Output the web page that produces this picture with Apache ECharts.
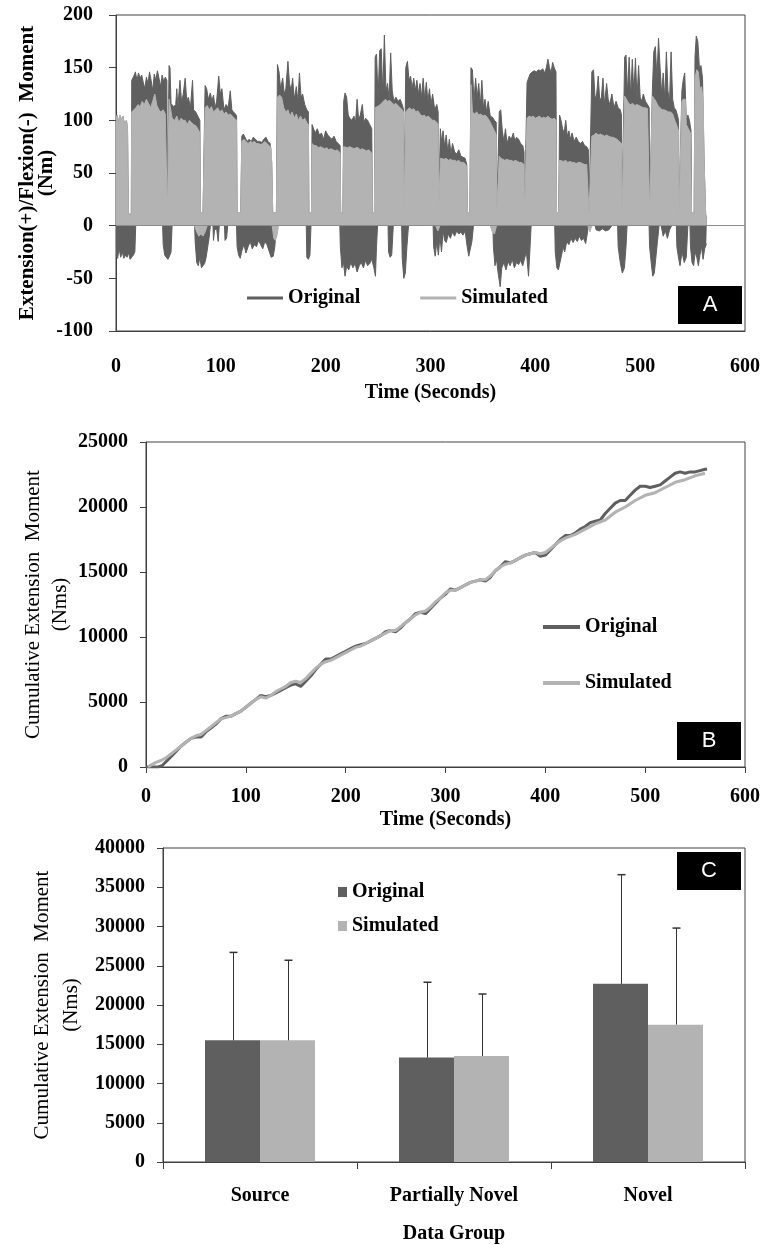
<!DOCTYPE html>
<html><head><meta charset="utf-8">
<script src="https://cdn.jsdelivr.net/npm/echarts/dist/echarts.min.js"></script>
<style>html,body{margin:0;padding:0;background:#fff}#c{width:763px;height:1245px}</style>
</head><body><div id="c"></div>
<script>
// ---------- Panel A: moment time series (envelopes) ----------
const momentOriginalUpper = [
[0,98],[1,105],[2.5,96],[3.5,105],[5,100],[6.5,104],[8,97],[10,100],[11,90],[11.8,12],[14,10],
[14.6,12],[15,138],[17,142],[18.5,146],[20,138],[21.5,145],[23,140],[24.5,143],[26,136],[27.5,130],[29,141],[30.5,135],[32,146],[33.5,138],[35,128],[36.5,144],[38,138],[39.5,147],[41,140],[42.5,132],[44,143],[45.5,137],[47,141],[48.5,138],[49,12],[49.8,12],
[50.3,12],[50.6,152],[51.5,150],[52.5,116],[55,113],[57,115],[58,130],[59,112],[61,138],[62.5,118],[64,124],[66,140],[67.5,118],[69,122],[71,112],[73,138],[74,110],[76,108],[78,104],[80,100],[80.5,12],[83,12],
[84.5,12],[85,133],[86.5,130],[88,120],[90,126],[91.5,118],[93,124],[94.5,112],[96,118],[98,142],[99.5,125],[101,130],[103,110],[105,115],[107,112],[109,128],[110.5,110],[112,108],[114,106],[115,104],[115.5,12],[119,12],
[119.5,12],[120,85],[121.5,87],[123,86],[125,80],[127,82],[129,80],[131,84],[133,82],[135,80],[137,80],[139,79],[141,82],[143,84],[145,80],[147,78],[148.5,60],[149.5,12],[153,12],
[153.6,12],[154,153],[155.5,146],[157,130],[159,140],[160.5,125],[162,130],[164,156],[165.5,135],[167,128],[168.5,140],[170,120],[172,132],[173.5,118],[175,145],[176.5,122],[178,125],[180,115],[182,110],[183.5,108],[184,12],[186.5,12],
[186.7,12],[187,96],[188.5,97],[190,88],[192,92],[194,86],[196,88],[198,82],[200,90],[202,86],[204,84],[206,82],[208,85],[210,80],[212,78],[213.8,76],[214.3,12],[216.5,12],
[216.8,12],[217.2,118],[218.5,126],[220,122],[221.5,105],[223,102],[225,100],[227,104],[228.5,98],[230,120],[231.5,100],[233,105],[235,115],[236.5,98],[238,102],[240,100],[242,96],[244,92],[244.5,12],[246.5,12],
[246.8,12],[247.2,160],[248.5,163],[250,120],[251.5,166],[253,168],[254.5,125],[256,181],[257.5,128],[259,135],[260.5,120],[262,164],[263.5,128],[265,118],[267,122],[269,118],[271,120],[273,115],[274.3,110],[274.8,12],[275.8,12],
[276,12],[276.4,150],[278,156],[279.5,138],[281,142],[282.5,130],[284,140],[285.5,128],[287,138],[288.5,125],[290,135],[291.5,122],[293,140],[294.5,120],[296,136],[297.5,118],[299,130],[300.5,115],[302,125],[304,110],[306,115],[307.3,108],[307.8,12],[308.8,12],
[309,12],[309.4,92],[310.5,80],[312,90],[313.5,75],[315,86],[316.5,70],[318,82],[319.5,68],[321,78],[323,70],[325,68],[327,72],[329,66],[331,65],[333,64],[334.6,58],[335.2,12],[337.5,12],
[338.2,12],[338.6,150],[340,148],[341.5,118],[343,140],[344.5,122],[346,135],[347.5,114],[349,138],[350.5,112],[352,120],[353.5,108],[355,118],[357,104],[359,103],[361,100],[362.7,98],[363.2,12],[364.8,12],
[365.2,12],[365.6,108],[367,110],[368.5,90],[370,80],[371.5,92],[373,78],[375,85],[377,82],[379,88],[380.5,80],[382,84],[384,82],[386,78],[388,76],[389.2,70],[389.7,12],[391.3,12],
[391.7,12],[392.1,136],[393.5,140],[395,144],[397,146],[399,147],[401,146],[403,148],[405,147],[407,149],[409,145],[410.5,150],[412,158],[413.5,150],[415,145],[416.5,155],[418,150],[419.7,146],[420.2,12],[422.3,12],
[422.7,12],[423.1,105],[424.5,100],[426,92],[427.5,88],[429,100],[430.5,85],[432,90],[433.5,82],[435,88],[437,80],[439,84],[441,80],[443,78],[445,80],[447,76],[449,75],[450.6,72],[451.2,12],[453,12],
[453.5,12],[453.9,146],[455.5,148],[457,120],[458.5,125],[460,142],[461.5,118],[463,122],[464.5,140],[466,115],[468,135],[469.5,120],[471,115],[473,125],[475,112],[477,118],[479,112],[481,110],[482.2,105],[482.7,12],[484.5,12],
[484.8,12],[485.2,160],[486.5,162],[488,125],[489.5,160],[491,122],[492.5,158],[494,125],[495.5,159],[497,120],[498.5,152],[500,122],[501.5,118],[503,125],[505,118],[507,115],[508.6,112],[509.1,12],[511,12],
[511.3,12],[511.7,130],[513,165],[514.5,170],[516,140],[517.5,178],[519,150],[520.5,125],[522,145],[523.5,120],[525,165],[526.5,128],[528,118],[529.5,165],[531,120],[532.5,112],[534,110],[535.5,105],[536.6,100],[537.1,12],[539,12],
[539.4,12],[539.8,128],[541,138],[542.5,145],[544,100],[545.5,105],[547,100],[548.5,90],[549,12],[551.5,12],
[551.9,12],[552.3,160],[553.5,180],[555,175],[556.5,150],[558,152],[559.5,140],[561,60],[562.5,10],[563.5,8]
];
const momentSimulatedUpper = [
[0,98],[1,105],[2.5,96],[3.5,105],[5,100],[6.5,104],[8,97],[10,100],[11,90],[11.8,12],[14,10],
[14.6,12],[15,108],[17,110],[19,112],[21,115],[23,113],[25,118],[27,115],[29,120],[31,116],[33,112],[35,118],[37,125],[39,114],[41,110],[43,108],[45,110],[47,106],[48.5,105],[49,12],[49.8,12],
[50.3,12],[50.6,120],[52,120],[53.5,102],[56,100],[58,104],[60,98],[62,102],[64,100],[66,100],[68,96],[70,100],[72,98],[74,96],[76,95],[78,92],[80,88],[80.5,12],[83,12],
[84.5,12],[85,112],[87,114],[89,110],[91,113],[93,108],[95,110],[97,112],[99,108],[101,110],[103,106],[105,108],[107,105],[109,106],[111,104],[113,102],[115,100],[115.5,12],[119,12],
[119.5,12],[120,80],[122,82],[124,80],[126,78],[128,80],[130,79],[132,80],[134,78],[136,78],[138,77],[140,78],[142,80],[144,78],[146,76],[148,74],[148.5,60],[149.5,12],[153,12],
[153.6,12],[154,122],[156,124],[158,122],[160,112],[162,108],[164,110],[166,104],[168,108],[170,102],[172,106],[174,100],[176,104],[178,100],[180,102],[182,98],[183.5,96],[184,12],[186.5,12],
[186.7,12],[187,78],[189,76],[191,76],[193,74],[195,75],[197,74],[199,73],[201,74],[203,72],[205,73],[207,72],[209,71],[211,72],[213,70],[213.8,68],[214.3,12],[216.5,12],
[216.8,12],[217.2,75],[219,76],[221,74],[223,75],[225,74],[227,73],[229,74],[231,74],[233,72],[235,73],[237,72],[239,71],[241,72],[243,70],[244,68],[244.5,12],[246.5,12],
[246.8,12],[247.2,112],[249,113],[251,114],[253,116],[255,118],[257,120],[259,118],[261,119],[263,117],[265,115],[267,116],[269,114],[271,112],[273,110],[274.3,108],[274.8,12],[275.8,12],
[276,12],[276.4,108],[278,110],[280,112],[282,110],[284,111],[286,108],[288,109],[290,106],[292,104],[294,105],[296,103],[298,104],[300,102],[302,100],[304,100],[306,98],[307.3,96],[307.8,12],[308.8,12],
[309,12],[309.4,64],[311,64],[313,63],[315,64],[317,62],[319,63],[321,62],[323,62],[325,61],[327,62],[329,60],[331,60],[333,59],[334.6,56],[335.2,12],[337.5,12],
[338.2,12],[338.6,134],[340,108],[342,106],[344,108],[346,105],[348,106],[350,104],[352,105],[354,103],[356,100],[358,96],[360,92],[362,88],[362.7,86],[363.2,12],[364.8,12],
[365.2,12],[365.6,66],[367,64],[369,63],[371,62],[373,63],[375,62],[377,62],[379,61],[381,62],[383,61],[385,60],[387,60],[389.2,58],[389.7,12],[391.3,12],
[391.7,12],[392.1,102],[394,104],[396,103],[398,104],[400,102],[402,103],[404,104],[406,102],[408,103],[410,102],[412,104],[414,102],[416,101],[418,102],[419.7,100],[420.2,12],[422.3,12],
[422.7,12],[423.1,62],[425,62],[427,61],[429,62],[431,60],[433,61],[435,60],[437,60],[439,59],[441,60],[443,60],[445,59],[447,58],[449,58],[450.6,57],[451.2,12],[453,12],
[453.5,12],[453.9,85],[456,86],[458,88],[460,86],[462,87],[464,86],[466,85],[468,86],[470,85],[472,84],[474,84],[476,83],[478,82],[480,80],[482.2,78],[482.7,12],[484.5,12],
[484.8,12],[485.2,123],[487,120],[489,116],[491,115],[493,116],[495,114],[497,115],[499,114],[501,113],[503,112],[505,112],[507,111],[508.6,110],[509.1,12],[511,12],
[511.3,12],[511.7,123],[513,124],[515,118],[517,114],[519,112],[521,110],[523,110],[525,109],[527,108],[529,108],[531,106],[533,100],[535,95],[536.6,90],[537.1,12],[539,12],
[539.4,12],[539.8,118],[541,120],[543,120],[544,96],[546,92],[548,88],[549,12],[551.5,12],
[551.9,12],[552.3,140],[554,148],[555.5,146],[557,130],[558.5,132],[560,120],[561,60],[562.5,10],[563.5,8]
];
const momentOriginalNegative = [
[[0,-28],[1.5,-31],[3,-22],[4.5,-30],[6,-25],[7.5,-31],[9,-28],[10.5,-30],[12,-26],[13.5,-32],[15,-30],[16.5,-28],[18,-25],[18.8,0]],
[[44.5,0],[45,-18],[46.5,-28],[48,-30],[49.5,-32],[51,-29],[52.5,-25],[53.5,0]],
[[75,0],[75.5,-15],[77,-35],[78.5,-38],[80,-30],[81.5,-40],[83,-38],[84.5,-36],[86,-30],[87.5,-20],[89,-10],[90,0]],
[[92.5,0],[93,-14],[94,-4],[96,-3],[97.5,-15],[98.5,0]],
[[103.5,0],[104,-14],[105.5,-12],[106.5,0]],
[[115,0],[115.5,-20],[117,-28],[118.5,-31],[120,-24],[122,-18],[124,-26],[126,-20],[128,-15],[130,-22],[132,-18],[134,-20],[136,-14],[138,-18],[140,-22],[142,-15],[144,-18],[146,-24],[148,-30],[150,-29],[151.5,-20],[153,0]],
[[181.5,0],[182,-30],[183.5,-32],[185,-28],[186,0]],
[[213.5,0],[214,-20],[215.5,-40],[217,-35],[218.5,-48],[220,-38],[222,-42],[224,-35],[226,-40],[228,-36],[230,-44],[232,-38],[234,-35],[236,-40],[238,-33],[240,-38],[242,-36],[244,-32],[246,-40],[247.5,-48],[248.5,-20],[249.5,0]],
[[259.5,0],[260,-25],[261.5,-30],[263,-28],[264.5,0]],
[[272.5,0],[273,-30],[274.5,-50],[276,-45],[277.5,-20],[279,0]],
[[302.5,0],[303,-20],[304.5,-29],[306,-15],[307.5,-28],[309,-10],[310.5,-25],[312,-5],[313.5,-14],[315,-16],[317,-8],[319,-12],[321,-6],[323,-10],[325,-5],[327,-8],[329,-6],[331,-9],[333,-5],[335,-20],[336.5,-29],[338,-28],[339.5,-15],[341,0]],
[[359.5,0],[360,-20],[361.5,-38],[363,-32],[364.5,-45],[366.5,-58],[368,-40],[370,-35],[372,-42],[374,-34],[376,-38],[378,-32],[380,-40],[382,-35],[384,-37],[386,-33],[388,-38],[390,-30],[391.5,-25],[393.5,-48],[395,-20],[396,0]],
[[418.5,0],[419,-25],[420.5,-40],[422,-42],[423.5,-35],[425,-28],[426.5,-20],[428,-25],[430,-15],[432,-18],[434,-12],[436,-16],[438,-12],[440,-15],[442,-10],[444,-14],[446,-12],[448,-17],[449.5,-8],[450.5,0]],
[[457,0],[458,-4],[461,-5],[464,-3],[467,-5],[470,-4],[473,0]],
[[478.5,0],[479,-20],[481,-35],[483,-45],[485,-40],[486.5,-20],[487.5,0]],
[[508.5,0],[509,-20],[510.5,-35],[512,-48],[513.5,-45],[515,-30],[516.5,-15],[518,0]],
[[520,0],[522,-10],[524,-5],[526,-12],[528,-4],[530,0]],
[[534.5,0],[535,-20],[536.5,-30],[538,-38],[540,-25],[542,-35],[544,-30],[545.5,0]],
[[547.5,0],[548,-20],[549.5,-35],[551,-38],[552.5,-25],[554,-30],[555.5,-38],[557,-28],[558.5,-20],[560,-32],[561.5,-22],[563,-18],[563.5,-17]]
];
const momentSimulatedNegative = [
[[75,0],[77,-6],[79,-10],[81,-8],[83,-10],[85,-6],[87,0]],
[[149,0],[150.5,-12],[152,-14],[153.5,-10],[155,0]],
[[305,0],[307,-5],[309,0]],
[[357,0],[359,-6],[361,-8],[363,0]],
[[450,0],[452,-6],[454,0]]
];

// ---------- Panel B: cumulative extension moment ----------
const cumulativeOriginal = [
[0,0],[8,0],[12,0],[16,100],[20,400],[25,800],[30,1200],[35,1600],[40,1900],[45,2200],[50,2300],[55,2300],[60,2700],[65,3000],[70,3300],[75,3700],[80,3900],[85,3900],[90,4100],[95,4300],[100,4600],[105,4900],[110,5200],[115,5500],[120,5400],[125,5500],[130,5700],[135,5900],[140,6100],[145,6300],[150,6400],[155,6200],[160,6600],[165,7000],[170,7500],[175,7900],[180,8300],[185,8300],[190,8500],[195,8700],[200,8900],[205,9100],[210,9300],[215,9400],[220,9500],[225,9700],[230,9900],[235,10100],[240,10400],[245,10500],[250,10400],[255,10700],[260,11100],[265,11400],[270,11800],[275,11900],[280,11800],[285,12200],[290,12600],[295,13000],[300,13300],[305,13700],[310,13600],[315,13800],[320,14000],[325,14200],[330,14300],[335,14400],[340,14300],[345,14600],[350,15100],[355,15400],[360,15800],[365,15700],[370,15900],[375,16100],[380,16300],[385,16400],[390,16500],[395,16200],[400,16300],[405,16700],[410,17100],[415,17500],[420,17800],[425,17800],[430,18000],[435,18300],[440,18500],[445,18800],[450,18900],[455,19000],[460,19500],[465,19900],[470,20300],[475,20500],[480,20500],[485,20900],[490,21300],[495,21600],[500,21600],[505,21500],[510,21600],[515,21700],[520,22000],[525,22300],[530,22600],[535,22700],[540,22600],[545,22700],[550,22700],[555,22800],[560,22900],[562,22900]
];
const cumulativeSimulated = [
[2,0],[5,150],[10,350],[15,500],[20,700],[25,1000],[30,1300],[35,1600],[40,1900],[45,2200],[50,2400],[55,2500],[60,2800],[65,3100],[70,3400],[75,3700],[80,3800],[85,3900],[90,4100],[95,4300],[100,4600],[105,4900],[110,5200],[115,5400],[120,5300],[125,5500],[130,5800],[135,6000],[140,6200],[145,6500],[150,6600],[155,6500],[160,6800],[165,7200],[170,7600],[175,7900],[180,8100],[185,8200],[190,8400],[195,8600],[200,8800],[205,9000],[210,9200],[215,9300],[220,9500],[225,9700],[230,9900],[235,10100],[240,10300],[245,10500],[250,10500],[255,10800],[260,11100],[265,11400],[270,11700],[275,11900],[280,12000],[285,12300],[290,12700],[295,13000],[300,13400],[305,13600],[310,13600],[315,13800],[320,14000],[325,14200],[330,14300],[335,14400],[340,14400],[345,14700],[350,15100],[355,15400],[360,15600],[365,15700],[370,15900],[375,16100],[380,16300],[385,16400],[390,16500],[395,16400],[400,16500],[405,16800],[410,17100],[415,17400],[420,17600],[430,17900],[440,18300],[450,18700],[460,19000],[470,19600],[480,20000],[490,20500],[500,20900],[510,21100],[520,21500],[530,21900],[540,22100],[550,22400],[560,22600]
];

// ---------- Panel C: group means and SDs ----------
const groups = ['Source', 'Partially Novel', 'Novel'];
const groupOriginalMean = [15500, 13300, 22700];
const groupOriginalSD = [11200, 9600, 13900];
const groupSimulatedMean = [15500, 13500, 17500];
const groupSimulatedSD = [10200, 7900, 12300];

// ---------- build ----------
const DARK = '#5f5f5f', LIGHT = '#b3b3b3', AX = '#404040';
const SERIF = '"Liberation Serif","Times New Roman",serif';
const tick = {fontFamily: SERIF, fontWeight: 'bold', fontSize: 20, color: '#000'};
const plain = v => String(v);
const BAR_W = 55;

function joinRegions(regions) {
  const out = [];
  regions.forEach(r => { r.forEach(p => out.push(p)); out.push([r[r.length - 1][0], '-']); });
  return out;
}

function areaSeries(name, data, color, z) {
  return {
    type: 'line', name, xAxisIndex: 0, yAxisIndex: 0, data, showSymbol: false, symbol: 'none',
    connectNulls: false, silent: true, z,
    lineStyle: {color, width: 1}, itemStyle: {color}, areaStyle: {color, opacity: 1}
  };
}

function errorSeries(name, means, sds, offset) {
  return {
    type: 'custom', name: name + ' SD', xAxisIndex: 2, yAxisIndex: 2, silent: true, z: 5,
    data: means.map((m, i) => [i, m, m + sds[i]]),
    encode: {x: 0, y: 1},
    renderItem(params, api) {
      const b = api.coord([api.value(0), api.value(1)]);
      const t = api.coord([api.value(0), api.value(2)]);
      const x = Math.round(b[0] + offset) + 0.5;
      return {type: 'group', children: [
        {type: 'line', shape: {x1: x, y1: b[1], x2: x, y2: t[1]}, style: {stroke: '#333', lineWidth: 1}},
        {type: 'line', shape: {x1: x - 4, y1: t[1], x2: x + 4, y2: t[1]}, style: {stroke: '#333', lineWidth: 1.5}}
      ]};
    }
  };
}

function box(letter, left, top) {
  return {type: 'group', left, top, children: [
    {type: 'rect', shape: {x: 0, y: 0, width: 64, height: 38}, style: {fill: '#000'}},
    {type: 'text', x: 32, y: 19, style: {text: letter, fill: '#fff', font: '22px "Liberation Sans", Arial, sans-serif', align: 'center', verticalAlign: 'middle', textAlign: 'center', textVerticalAlign: 'middle'}}
  ]};
}

const legendText = {fontFamily: SERIF, fontWeight: 'bold', fontSize: 20, color: '#000'};
const titleRegular = {fontFamily: SERIF, fontWeight: 'normal', fontSize: 21, color: '#000', align: 'center'};

const option = {
  animation: false,
  backgroundColor: '#fff',
  grid: [
    {left: 116, top: 15, width: 629, height: 316, show: true, borderColor: AX, borderWidth: 1, backgroundColor: 'transparent'},
    {left: 146, top: 442, width: 599, height: 325, show: true, borderColor: AX, borderWidth: 1, backgroundColor: 'transparent'},
    {left: 163, top: 848, width: 582, height: 315, show: true, borderColor: AX, borderWidth: 1, backgroundColor: 'transparent'}
  ],
  xAxis: [
    {type: 'value', gridIndex: 0, min: 0, max: 600, interval: 100,
     axisLine: {show: true, onZero: false, lineStyle: {color: AX}}, axisTick: {show: false}, splitLine: {show: false},
     axisLabel: Object.assign({margin: 26}, tick),
     name: 'Time (Seconds)', nameLocation: 'middle', nameGap: 52, nameMoveOverlap: false, nameTextStyle: Object.assign({}, tick)},
    {type: 'value', gridIndex: 1, min: 0, max: 600, interval: 100,
     axisLine: {show: true, onZero: false, lineStyle: {color: AX}}, axisTick: {show: true, length: 6, lineStyle: {color: AX}}, splitLine: {show: false},
     axisLabel: Object.assign({margin: 20}, tick),
     name: 'Time (Seconds)', nameLocation: 'middle', nameGap: 43, nameMoveOverlap: false, nameTextStyle: Object.assign({}, tick)},
    {type: 'category', gridIndex: 2, data: groups, boundaryGap: true,
     axisLine: {show: true, lineStyle: {color: AX}}, axisTick: {show: true, length: 7, alignWithLabel: false, lineStyle: {color: AX}},
     axisLabel: Object.assign({margin: 24, interval: 0}, tick),
     name: 'Data Group', nameLocation: 'middle', nameGap: 62, nameMoveOverlap: false, nameTextStyle: Object.assign({}, tick)}
  ],
  yAxis: [
    {type: 'value', gridIndex: 0, min: -100, max: 200, interval: 50,
     axisLine: {show: true, onZero: false, lineStyle: {color: AX}}, axisTick: {show: true, length: 7, lineStyle: {color: AX}}, splitLine: {show: false},
     axisLabel: Object.assign({margin: 23, formatter: plain}, tick),
     name: 'Extension(+)/Flexion(-)  Moment\n(Nm)', nameLocation: 'middle', nameRotate: 90, nameGap: 60, nameMoveOverlap: false,
     nameTextStyle: Object.assign({}, tick, {fontSize: 21, lineHeight: 19, align: 'center'})},
    {type: 'value', gridIndex: 1, min: 0, max: 25000, interval: 5000,
     axisLine: {show: true, lineStyle: {color: AX}}, axisTick: {show: true, length: 6, lineStyle: {color: AX}}, splitLine: {show: false},
     axisLabel: Object.assign({margin: 18, formatter: plain}, tick),
     name: 'Cumulative Extension  Moment\n(Nms)', nameLocation: 'middle', nameRotate: 90, nameGap: 72, nameMoveOverlap: false,
     nameTextStyle: Object.assign({lineHeight: 27}, titleRegular)},
    {type: 'value', gridIndex: 2, min: 0, max: 40000, interval: 5000,
     axisLine: {show: true, lineStyle: {color: AX}}, axisTick: {show: true, length: 6, lineStyle: {color: AX}}, splitLine: {show: false},
     axisLabel: Object.assign({margin: 18, formatter: plain}, tick),
     name: 'Cumulative Extension  Moment\n(Nms)', nameLocation: 'middle', nameRotate: 90, nameGap: 77, nameMoveOverlap: false,
     nameTextStyle: Object.assign({lineHeight: 29}, titleRegular)}
  ],
  legend: [
    {data: [{name: 'Original', itemStyle: {color: DARK}}, {name: 'Simulated', itemStyle: {color: LIGHT}}],
     left: 247, top: 288, orient: 'horizontal', icon: 'rect', itemWidth: 36, itemHeight: 3, itemGap: 60, padding: 0,
     selectedMode: false, textStyle: legendText},
    {data: [{name: 'Original', itemStyle: {color: DARK}}, {name: 'Simulated', itemStyle: {color: LIGHT}}],
     left: 543, top: 617, orient: 'vertical', icon: 'rect', itemWidth: 37, itemHeight: 4, itemGap: 36, padding: 0,
     selectedMode: false, textStyle: legendText},
    {data: [{name: 'Original', itemStyle: {color: DARK}}, {name: 'Simulated', itemStyle: {color: LIGHT}}],
     left: 338, top: 882, orient: 'vertical', icon: 'rect', itemWidth: 9, itemHeight: 10, itemGap: 14, padding: 0,
     selectedMode: false, textStyle: legendText}
  ],
  graphic: [box('A', 678, 286), box('B', 677, 722), box('C', 677, 852)],
  series: [
    Object.assign(areaSeries('Original', momentOriginalUpper, DARK, 2), {
      markLine: {silent: true, symbol: ['none', 'none'], label: {show: false},
                 lineStyle: {color: '#8c8c8c', width: 1, type: 'solid'}, data: [{yAxis: 0}]}
    }),
    areaSeries('Original', joinRegions(momentOriginalNegative), DARK, 2),
    areaSeries('Simulated', momentSimulatedUpper, LIGHT, 3),
    areaSeries('Simulated', joinRegions(momentSimulatedNegative), LIGHT, 3),
    {type: 'line', name: 'Original', xAxisIndex: 1, yAxisIndex: 1, data: cumulativeOriginal, showSymbol: false, symbol: 'none',
     lineStyle: {color: DARK, width: 3}, itemStyle: {color: DARK}, z: 2},
    {type: 'line', name: 'Simulated', xAxisIndex: 1, yAxisIndex: 1, data: cumulativeSimulated, showSymbol: false, symbol: 'none',
     lineStyle: {color: LIGHT, width: 3}, itemStyle: {color: LIGHT}, z: 3},
    {type: 'bar', name: 'Original', xAxisIndex: 2, yAxisIndex: 2, data: groupOriginalMean, barWidth: BAR_W, barGap: '0%',
     itemStyle: {color: DARK}},
    {type: 'bar', name: 'Simulated', xAxisIndex: 2, yAxisIndex: 2, data: groupSimulatedMean, barWidth: BAR_W, barGap: '0%',
     itemStyle: {color: LIGHT}},
    errorSeries('Original', groupOriginalMean, groupOriginalSD, -BAR_W / 2),
    errorSeries('Simulated', groupSimulatedMean, groupSimulatedSD, BAR_W / 2)
  ]
};

const chart = echarts.init(document.getElementById('c'));
chart.setOption(option);
</script>
</body></html>
